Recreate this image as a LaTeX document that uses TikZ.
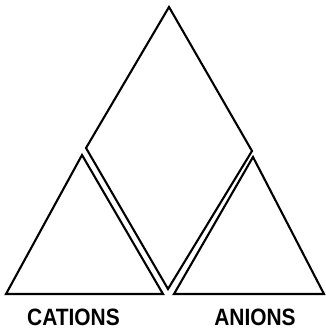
\documentclass[tikz,border=0pt]{standalone}
\usepackage{fontspec}
\setmainfont{Liberation Sans}
\usetikzlibrary{positioning}

\begin{document}
\begin{tikzpicture}[x=1bp, y=1bp, line join=miter]
\tikzset{
  face/.style={line width=2.1bp, draw=black},
  ionlabel/.style={font=\fontsize{21}{24}\selectfont\bfseries, inner sep=0pt, yscale=1.13, transform shape}
}
\useasboundingbox (0,0) rectangle (326,330);
% upper rhombus
\coordinate (top) at (169,323);
\coordinate (midL) at (86,182);
\coordinate (midR) at (252,179);
\coordinate (bot) at (168,41);
\draw[face] (top) -- (midR) -- (bot) -- (midL) -- cycle;
% left triangle
\coordinate (catA) at (82,175);
\coordinate (catL) at (6,36);
\coordinate (catR) at (163,36);
\draw[face] (catA) -- (catR) -- (catL) -- cycle;
% right triangle
\coordinate (anA) at (253,173);
\coordinate (anL) at (174,36);
\coordinate (anR) at (324,36);
\draw[face] (anA) -- (anR) -- (anL) -- cycle;
\node[ionlabel] (cat) at (73.5,13) {CATIONS};
\node[ionlabel] (an) at (255,13) {ANIONS};
\end{tikzpicture}
\end{document}
